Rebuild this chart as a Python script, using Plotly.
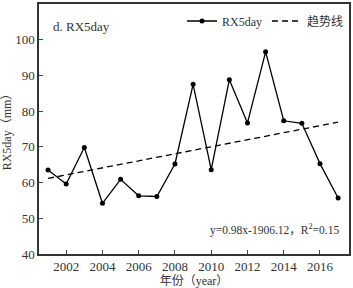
import numpy as np
import plotly.graph_objects as go

years = list(range(2001, 2018))
rx5day = [63.5, 59.6, 69.8, 54.2, 60.9, 56.3, 56.1, 65.2, 87.5, 63.6,
          88.8, 76.7, 96.6, 77.3, 76.6, 65.3, 55.7]
x_ticks = [2002, 2004, 2006, 2008, 2010, 2012, 2014, 2016]
y_ticks = [40, 50, 60, 70, 80, 90, 100, 110]

slope, intercept = np.polyfit(years, rx5day, 1)
trend_x = [years[0], years[-1]]
trend_y = [slope * v + intercept for v in trend_x]

FONT = "Liberation Serif, Noto Sans CJK SC"

fig = go.Figure()
fig.add_trace(go.Scatter(x=years, y=rx5day, mode="lines+markers", name="RX5day",
                         line=dict(color="black", width=1.3),
                         marker=dict(color="black", size=5)))
fig.add_trace(go.Scatter(x=trend_x, y=trend_y, mode="lines", name="趋势线",
                         line=dict(color="black", width=1.3, dash="6px,4px")))

fig.update_layout(
    width=353, height=288,
    margin=dict(l=39, r=2, t=4, b=34),
    paper_bgcolor="white", plot_bgcolor="white",
    font=dict(family=FONT, size=12, color="#333"),
    showlegend=True,
    legend=dict(orientation="h", x=1.0, y=0.99, xanchor="right", yanchor="top",
                bgcolor="rgba(0,0,0,0)", font=dict(size=12), itemwidth=30,
                tracegroupgap=0),
    xaxis=dict(range=[2000.5, 2017.6], tickvals=x_ticks, ticks="inside", ticklen=4,
               tickfont=dict(size=13),
               showline=True, linecolor="#333", linewidth=1.5, mirror=True,
               showgrid=False, zeroline=False,
               title=dict(text="年份（year）", standoff=3, font=dict(size=12))),
    yaxis=dict(range=[40, 110], tickvals=y_ticks, ticks="inside", ticklen=4,
               tickfont=dict(size=13),
               showline=True, linecolor="#333", linewidth=1.5, mirror=True,
               showgrid=False, zeroline=False,
               title=dict(text="RX5day（mm）", standoff=2, font=dict(size=12))),
    annotations=[
        dict(text="d. RX5day", x=0.04, y=0.95, xref="paper", yref="paper",
             xanchor="left", yanchor="top", showarrow=False, font=dict(size=13)),
        dict(text="y=0.98x-1906.12，R<sup>2</sup>=0.15", x=0.975, y=0.1,
             xref="paper", yref="paper", xanchor="right", yanchor="middle",
             showarrow=False, font=dict(size=11.5)),
    ],
)

fig.write_html("out.html", config={"displayModeBar": False},
               post_script="document.body.style.margin='0';document.body.style.padding='0';")
